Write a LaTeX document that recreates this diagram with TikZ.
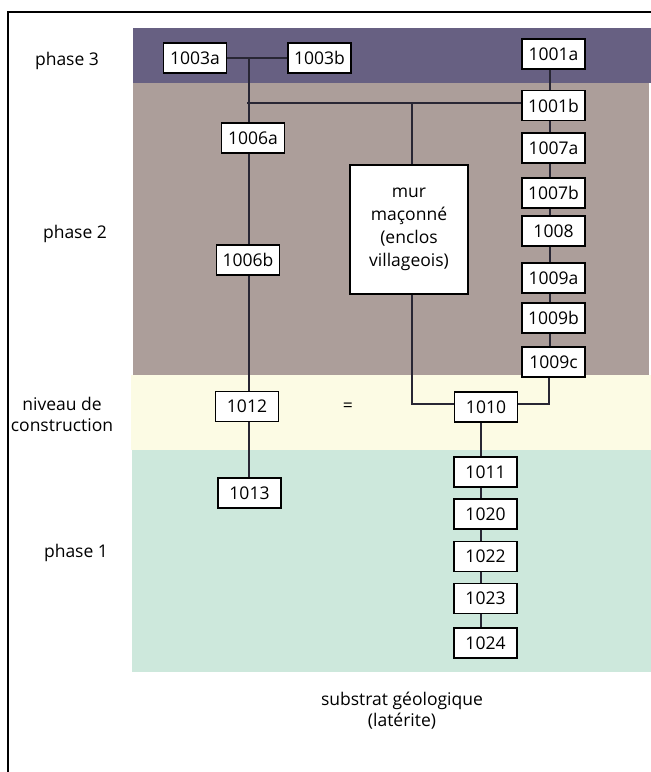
\documentclass[tikz,border=0pt]{standalone}
\usepackage{fontspec}
\setmainfont{Open Sans}
\begin{document}
\begin{tikzpicture}[x=1pt,y=-1pt,
  box/.style={draw=black,line width=1.4pt,fill=white,minimum width=63pt,minimum height=30pt,inner sep=0pt,font=\fontsize{17.5}{21}\selectfont},
  lab/.style={font=\fontsize{17.5}{21}\selectfont,align=center,inner sep=0pt},
  conn/.style={draw=linec,line width=1.5pt}]
\definecolor{purp}{RGB}{103,96,130}
\definecolor{brn}{RGB}{172,158,154}
\definecolor{yel}{RGB}{252,251,228}
\definecolor{grn}{RGB}{205,232,220}
\definecolor{linec}{RGB}{40,38,52}
\useasboundingbox (0,0) rectangle (651,772);
\fill[white] (0,0) rectangle (651,772);
% bands
\fill[purp] (133,28) rectangle (651,83);
\fill[brn] (133,83) rectangle (649,375);
\fill[yel] (131,375) rectangle (651,450);
\fill[grn] (132,450) rectangle (651,672);
% frame
\draw[line width=1.3pt] (8,772) -- (8,12) -- (651,12);
% side labels
\node[lab] (p3) at (67,61) {phase 3};
\node[lab] (p2) at (75,234) {phase 2};
\node[lab] (nc) at (62,414) {niveau de\\construction};
\node[lab] (p1) at (76,553) {phase 1};
\node[lab] (sg) at (402,711) {substrat géologique\\(latérite)};
% boxes
\node[box] (a3a) at (195,58) {1003a};
\node[box] (a3b) at (319.5,58) {1003b};
\node[box] (a1a) at (553.5,54) {1001a};
\node[box] (a1b) at (553.5,105.5) {1001b};
\node[box] (a6a) at (253,138) {1006a};
\node[box] (a6b) at (248,260) {1006b};
\node[box,minimum width=118pt,minimum height=129pt,align=center,font=\fontsize{17.5}{23}\selectfont] (mur) at (409,229.5) {mur\\maçonné\\(enclos\\villageois)};
\node[box] (a7a) at (553.5,148) {1007a};
\node[box] (a7b) at (553.5,193) {1007b};
\node[box] (a8) at (553.5,231) {1008};
\node[box] (a9a) at (553.5,278) {1009a};
\node[box] (a9b) at (553.5,318) {1009b};
\node[box] (a9c) at (553.5,362) {1009c};
\node[box] (a12) at (247,406.5) {1012};
\node[box] (a10) at (486,407) {1010};
\node[box] (a11) at (485.5,472) {1011};
\node[box] (a20) at (485.5,514) {1020};
\node[box] (a22) at (485.5,556.5) {1022};
\node[box] (a23) at (485.5,598.5) {1023};
\node[box] (a24) at (485.5,643) {1024};
\node[box] (a13) at (249.5,493) {1013};
\node[lab] (eq) at (348,407) {=};
% junction coordinates
\coordinate (jl) at (249,58);
\coordinate (jh) at (247,103);
\coordinate (jm) at (412,103);
\coordinate (jr) at (550,0);
\coordinate (jd) at (481,0);
% connectors
\draw[conn] (a3a.east) -- (a3b.west);
\draw[conn] (jl) -- (jl |- a6a.north);
\draw[conn] (jl |- a6a.south) -- (jl |- a6b.north);
\draw[conn] (jl |- a6b.south) -- (jl |- a12.north);
\draw[conn] (jl |- a12.south) -- (jl |- a13.north);
\draw[conn] (jh) -- (jh -| a1b.west);
\draw[conn] (jm) -- (jm |- mur.north);
\draw[conn] (jm |- mur.south) -- (412,404) -- (a10.west |- 0,404);
\draw[conn] (a10.east |- 0,404) -- (549,404) -- (549,0 |- a9c.south);
\draw[conn] (jr |- a1a.south) -- (jr |- a1b.north);
\draw[conn] (jr |- a1b.south) -- (jr |- a7a.north);
\draw[conn] (jr |- a7a.south) -- (jr |- a7b.north);
\draw[conn] (jr |- a7b.south) -- (jr |- a8.north);
\draw[conn] (jr |- a8.south) -- (jr |- a9a.north);
\draw[conn] (jr |- a9a.south) -- (jr |- a9b.north);
\draw[conn] (jr |- a9b.south) -- (jr |- a9c.north);
\draw[conn] (jd |- a10.south) -- (jd |- a11.north);
\draw[conn] (jd |- a11.south) -- (jd |- a20.north);
\draw[conn] (jd |- a20.south) -- (jd |- a22.north);
\draw[conn] (jd |- a22.south) -- (jd |- a23.north);
\draw[conn] (jd |- a23.south) -- (jd |- a24.north);
\end{tikzpicture}
\end{document}
